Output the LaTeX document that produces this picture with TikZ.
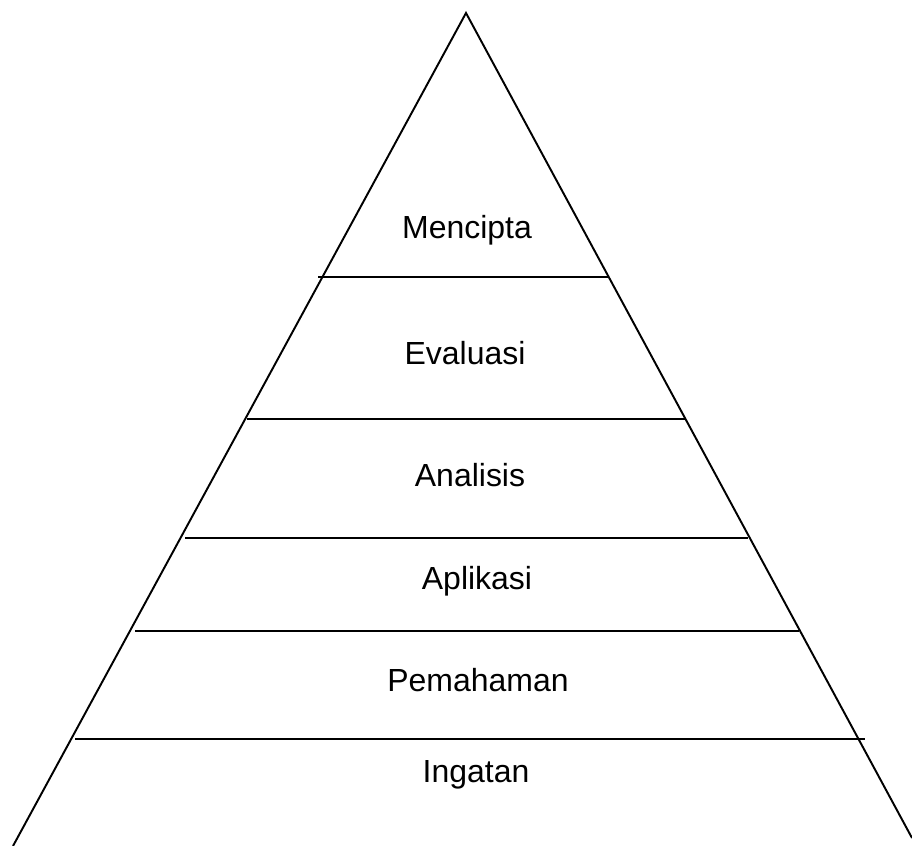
\documentclass[tikz,border=0pt]{standalone}
\usepackage{fontspec}
\setmainfont{Liberation Sans}
\begin{document}
\begin{tikzpicture}[x=0.2mm, y=-0.2mm]

\tikzstyle{level}=[font=\fontsize{18.2}{22}\selectfont, inner sep=0pt]
\tikzstyle{edge}=[line width=1.1pt, black]

\useasboundingbox (0,0) rectangle (912,846);

\coordinate (apex) at (466,13);
\coordinate (bl) at (13,846);
\coordinate (br) at (912,838);

\draw[edge] (bl) -- (apex) -- (br);

% level separators
\coordinate (s1l) at (318,277);  \coordinate (s1r) at (609,277);
\coordinate (s2l) at (247,419);  \coordinate (s2r) at (686,419);
\coordinate (s3l) at (185,538);  \coordinate (s3r) at (748,538);
\coordinate (s4l) at (135,631);  \coordinate (s4r) at (799,631);
\coordinate (s5l) at (75,739);   \coordinate (s5r) at (865,739);

\draw[edge] (s1l) -- (s1r);
\draw[edge] (s2l) -- (s2r);
\draw[edge] (s3l) -- (s3r);
\draw[edge] (s4l) -- (s4r);
\draw[edge] (s5l) -- (s5r);

\node[level] (mencipta) at (467,230) {Mencipta};
\node[level] (evaluasi) at (465,353) {Evaluasi};
\node[level] (analisis) at (470,475) {Analisis};
\node[level] (aplikasi) at (477,581) {Aplikasi};
\node[level] (pemahaman) at (478,680) {Pemahaman};
\node[level] (ingatan) at (476,775) {Ingatan};

\end{tikzpicture}
\end{document}
